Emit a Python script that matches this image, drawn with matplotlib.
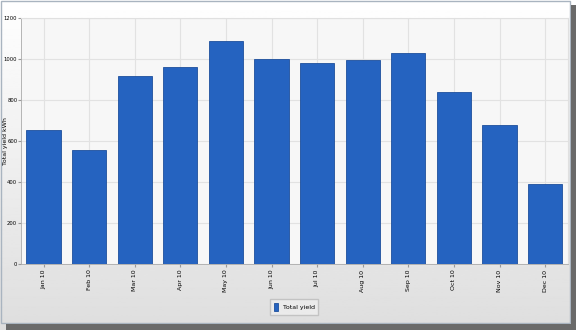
import numpy as np
import matplotlib.pyplot as plt
from matplotlib.patches import Rectangle

months = ["Jan 10", "Feb 10", "Mar 10", "Apr 10", "May 10", "Jun 10",
          "Jul 10", "Aug 10", "Sep 10", "Oct 10", "Nov 10", "Dec 10"]
total_yield = [654, 556, 917, 961, 1088, 1000, 980, 995, 1029, 839, 678, 390]

fig = plt.figure(figsize=(5.76, 3.30), dpi=100)

# background gradient of the whole picture
bg = fig.add_axes([0, 0, 1, 1], zorder=-10)
grad = np.linspace(1.0, 0.87, 256).reshape(-1, 1)
bg.imshow(grad, cmap="gray", vmin=0, vmax=1, aspect="auto", extent=[0, 1, 0, 1])
bg.set_axis_off()

# frame and shadow
fig.patches.append(Rectangle((0.001, 0.021), 0.989, 0.977, transform=fig.transFigure,
                             fill=False, edgecolor="#a9b4c0", linewidth=1.0))
fig.patches.append(Rectangle((0.991, 0.0), 0.009, 0.985, transform=fig.transFigure,
                             facecolor="#6a6a6a", edgecolor="none"))
fig.patches.append(Rectangle((0.01, 0.0), 0.99, 0.018, transform=fig.transFigure,
                             facecolor="#6a6a6a", edgecolor="none"))

ax = fig.add_axes([0.036, 0.2, 0.950, 0.745])
ax.set_facecolor("#f7f7f7")
x = np.arange(len(months))
ax.bar(x, total_yield, width=0.75, color="#2563c0", edgecolor="#1d4f9c",
       linewidth=0.6, label="Total yield", zorder=3)

ax.set_xlim(-0.5, len(months) - 0.5)
ax.set_ylim(0, 1200)
ax.set_yticks(range(0, 1201, 200))
ax.set_xticks(x)
ax.set_xticklabels(months, rotation=90, fontsize=4.5)
ax.tick_params(axis="y", labelsize=3.8, length=2, color="#999999", pad=0.5)
ax.tick_params(axis="x", length=2, color="#999999", pad=2)
ax.grid(True, color="#e2e2e2", linewidth=0.8, zorder=0)
for s in ["top", "right"]:
    ax.spines[s].set_color("#e0e0e0")
for s in ["left", "bottom"]:
    ax.spines[s].set_color("#aaaaaa")
    ax.spines[s].set_linewidth(0.6)
fig.text(0.009, 0.573, "Total yield kWh", fontsize=4.5, rotation=90,
         ha="center", va="center")

leg = ax.legend(loc="upper center", bbox_to_anchor=(0.5, -0.13), fontsize=4.5,
                frameon=True, fancybox=False, handlelength=0.6, handleheight=1.6,
                borderpad=0.6)
leg.get_frame().set_edgecolor("#bbbbbb")
leg.get_frame().set_facecolor("#eeeeee")

fig.savefig("out.png", dpi=100)
